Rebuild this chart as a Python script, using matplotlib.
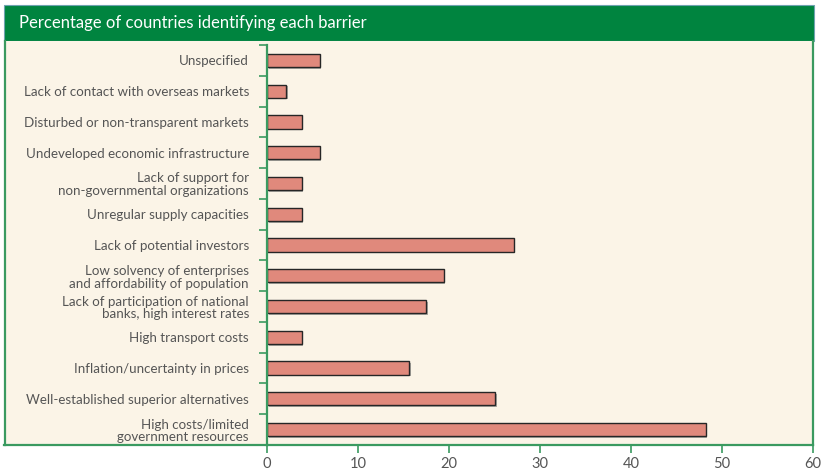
import matplotlib.pyplot as plt
import matplotlib.patheffects as pe
from matplotlib.patches import Rectangle
from matplotlib.lines import Line2D
import numpy as np

# data, top to bottom as in the chart
barriers = ['Unspecified',
            'Lack of contact with overseas markets',
            'Disturbed or non-transparent markets',
            'Undeveloped economic infrastructure',
            'Lack of support for\nnon-governmental organizations',
            'Unregular supply capacities',
            'Lack of potential investors',
            'Low solvency of enterprises\nand affordability of population',
            'Lack of participation of national\nbanks, high interest rates',
            'High transport costs',
            'Inflation/uncertainty in prices',
            'Well-established superior alternatives',
            'High costs/limited\ngovernment resources']
percent = [5.8, 2.1, 3.8, 5.8, 3.8, 3.8, 27.1, 19.4, 17.5, 3.8, 15.6, 25.1, 48.2]
xticks = [0, 10, 20, 30, 40, 50, 60]
title = 'Percentage of countries identifying each barrier'

green = '#00843f'
cream = '#fbf4e7'
barcol = '#e0897c'
txt = '#555555'
W, H = 822, 472

plt.rcParams['font.family'] = ['Lato', 'DejaVu Sans']

fig = plt.figure(figsize=(W / 100, H / 100), dpi=100)

def fx(px):
    return px / W

def fy(py):
    return 1 - py / H

# header band and cream panel
fig.patches.append(Rectangle((fx(4), fy(41)), fx(814) - fx(4), fy(5) - fy(41),
                             transform=fig.transFigure, facecolor=green,
                             edgecolor='#6fa3b0', linewidth=0.8, zorder=-2))
fig.patches.append(Rectangle((fx(4), fy(445)), fx(813) - fx(4), fy(41) - fy(445),
                             transform=fig.transFigure, facecolor=cream,
                             edgecolor='none', zorder=-2))
fig.lines.append(Line2D([fx(4.5), fx(4.5)], [fy(41), fy(445)], transform=fig.transFigure,
                        color='#3a9a60', linewidth=1.6, zorder=-1))
fig.lines.append(Line2D([fx(4), fx(267)], [fy(445), fy(445)], transform=fig.transFigure,
                        color='#3a9a60', linewidth=1.6, zorder=-1))
fig.text(fx(19), fy(23), title, color='white', fontsize=12, va='center', ha='left')

ax = fig.add_axes([fx(267), fy(445), fx(813) - fx(267), fy(45) - fy(445)])
ax.set_zorder(2)
ax.set_facecolor('none')

y = np.arange(len(barriers))
bars = ax.barh(y, percent, height=0.43, color=barcol, edgecolor='#262626', linewidth=1.0)
for b in bars:
    b.set_path_effects([pe.SimplePatchShadow(offset=(1.2, -1.2), shadow_rgbFace='#777777', alpha=0.6),
                        pe.Normal()])

ax.set_ylim(len(barriers) - 0.5, -0.5)
ax.set_xlim(0, 60)
ax.set_yticks(y)
ax.set_yticklabels(barriers, fontsize=9.6, color=txt, linespacing=1.08)
ax.set_yticks(np.arange(len(barriers) + 1) - 0.5, minor=True)
ax.tick_params(axis='y', which='major', length=0, pad=13)
ax.tick_params(axis='y', which='minor', length=6, width=1.2, color='#3a9a60', direction='out')
ax.set_xticks(xticks)
ax.tick_params(axis='x', length=5.5, width=1.2, color='#3a9a60', labelsize=10.5,
               labelcolor=txt, pad=3)

for s in ['left', 'right', 'bottom']:
    ax.spines[s].set_color('#3a9a60')
    ax.spines[s].set_linewidth(1.6)
ax.spines['top'].set_visible(False)
ax.spines['right'].set_bounds(-0.63, 12.5)

plt.savefig('out.png', dpi=100)
